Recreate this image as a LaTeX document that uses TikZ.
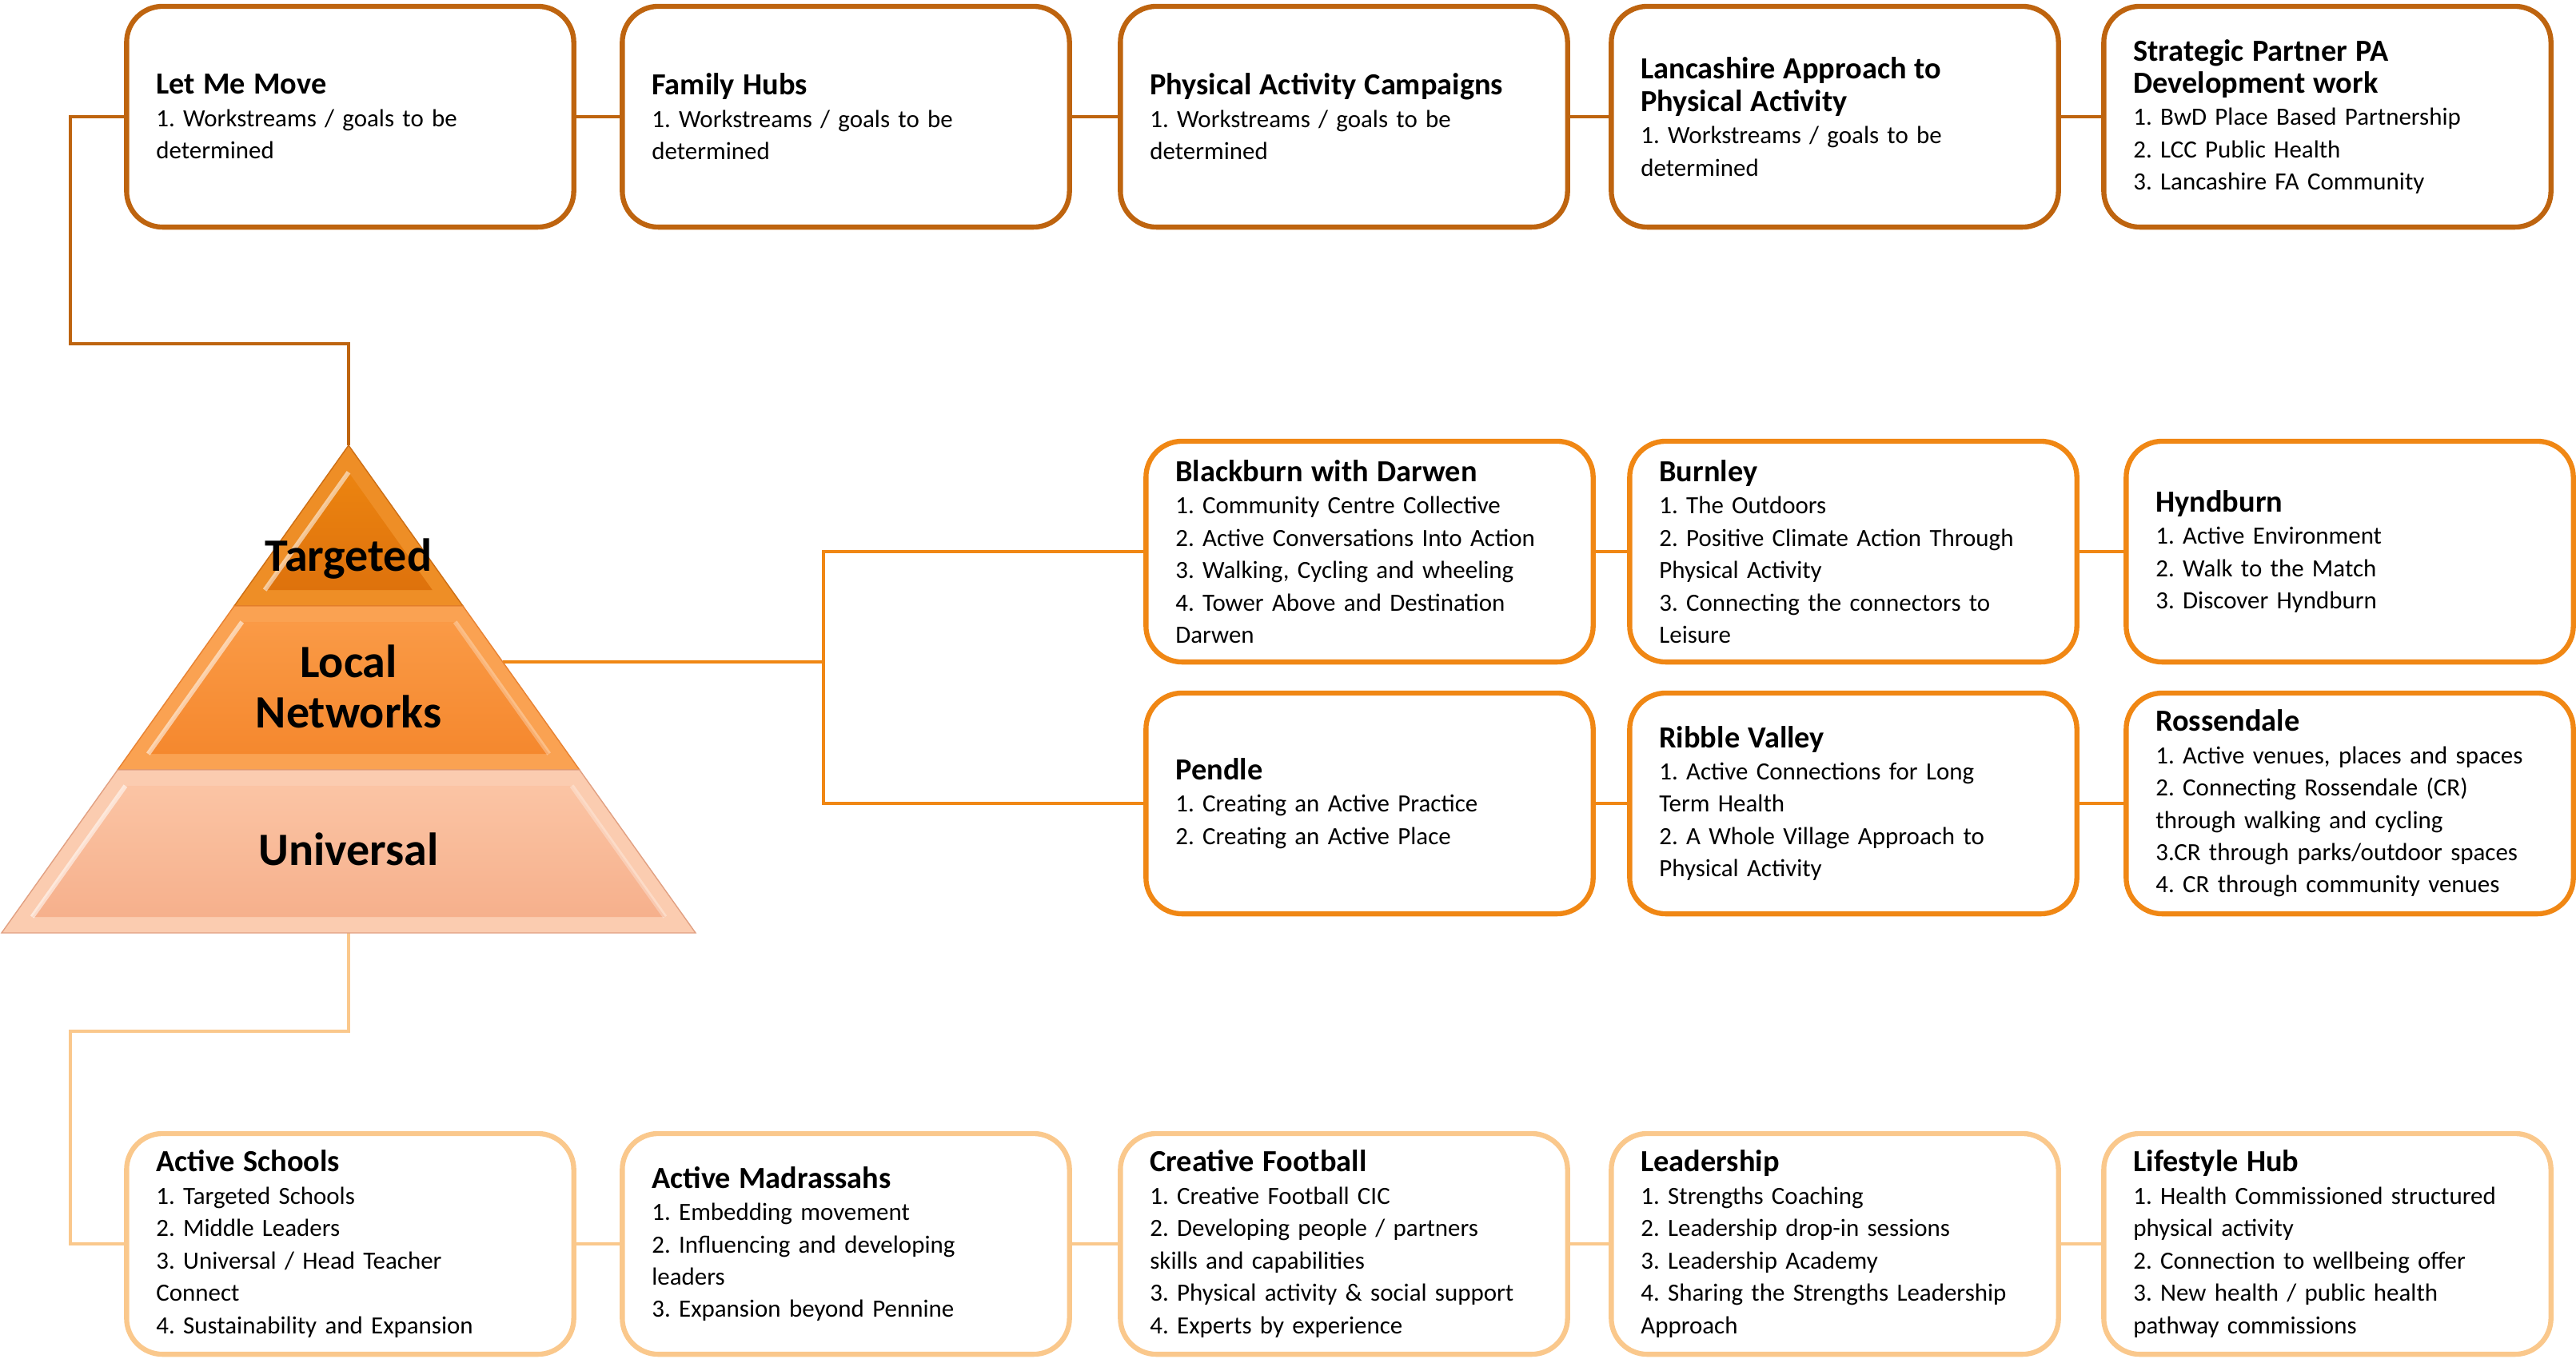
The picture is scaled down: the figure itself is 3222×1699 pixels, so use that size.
\documentclass[tikz,border=0pt]{standalone}
\usepackage{fontspec}
\setmainfont{Carlito}
\frenchspacing

\definecolor{toporange}{RGB}{190,100,15}
\definecolor{midorange}{RGB}{240,135,20}
\definecolor{lightorange}{RGB}{250,200,140}

\tikzset{
  box/.style={draw, rounded corners=0.45cm, line width=1.8pt, fill=white,
    text width=4.85cm, inner xsep=0.37cm, minimum height=2.76cm, align=left,
    font=\fontsize{8.8}{11.5}\selectfont},
  topbox/.style={box, draw=toporange},
  midbox/.style={box, draw=midorange},
  botbox/.style={box, draw=lightorange},
  link/.style={line width=0.9pt},
  shine/.style={draw=white, draw opacity=0.55, line width=1.6pt},
  lvl/.style={font=\fontsize{16.5}{18}\selectfont\bfseries, align=center}
}

\begin{document}
\begin{tikzpicture}[x=0.01cm, y=-0.01cm]
\newcommand{\pyk}{0.7115}
\newcommand{\bev}{24}
\newcommand{\hd}[1]{{\fontsize{10.9}{12}\selectfont\bfseries #1}}
\useasboundingbox (0,0) rectangle (3222,1699);

% top row
\node[topbox] (lmm) at (438,146) {\hd{Let Me Move}\\1. Workstreams / goals to be\\determined};
\node[topbox] (fh) at (1058,146) {\hd{Family Hubs}\\1. Workstreams / goals to be\\determined};
\node[topbox] (pac) at (1681,146) {\hd{Physical Activity Campaigns}\\1. Workstreams / goals to be\\determined};
\node[topbox] (lap) at (2295,146) {\hd{Lancashire Approach to}\\\hd{Physical Activity}\\1. Workstreams / goals to be\\determined};
\node[topbox] (spp) at (2911,146) {\hd{Strategic Partner PA}\\\hd{Development work}\\1. BwD Place Based Partnership\\2. LCC Public Health\\3. Lancashire FA Community};

% local networks
\node[midbox] (bwd) at (1713,690) {\hd{Blackburn with Darwen}\\1. Community Centre Collective\\2. Active Conversations Into Action\\3. Walking, Cycling and wheeling\\4. Tower Above and Destination\\Darwen};
\node[midbox] (bur) at (2318,690) {\hd{Burnley}\\1. The Outdoors\\2. Positive Climate Action Through\\Physical Activity\\3. Connecting the connectors to\\Leisure};
\node[midbox] (hyn) at (2939,690) {\hd{Hyndburn}\\1. Active Environment\\2. Walk to the Match\\3. Discover Hyndburn};
\node[midbox] (pen) at (1713,1005) {\hd{Pendle}\\1. Creating an Active Practice\\2. Creating an Active Place};
\node[midbox] (rib) at (2318,1005) {\hd{Ribble Valley}\\1. Active Connections for Long\\Term Health\\2. A Whole Village Approach to\\Physical Activity};
\node[midbox] (ros) at (2939,1005) {\hd{Rossendale}\\1. Active venues, places and spaces\\2. Connecting Rossendale (CR)\\through walking and cycling\\3.CR through parks/outdoor spaces\\4. CR through community venues};

% bottom row
\node[botbox] (as) at (438,1556) {\hd{Active Schools}\\1. Targeted Schools\\2. Middle Leaders\\3. Universal / Head Teacher\\Connect\\4. Sustainability and Expansion};
\node[botbox] (am) at (1058,1556) {\hd{Active Madrassahs}\\1. Embedding movement\\2. Influencing and developing\\leaders\\3. Expansion beyond Pennine};
\node[botbox] (cf) at (1681,1556) {\hd{Creative Football}\\1. Creative Football CIC\\2. Developing people / partners\\skills and capabilities\\3. Physical activity \& social support\\4. Experts by experience};
\node[botbox] (lead) at (2295,1556) {\hd{Leadership}\\1. Strengths Coaching\\2. Leadership drop-in sessions\\3. Leadership Academy\\4. Sharing the Strengths Leadership\\Approach};
\node[botbox] (lh) at (2911,1556) {\hd{Lifestyle Hub}\\1. Health Commissioned structured\\physical activity\\2. Connection to wellbeing offer\\3. New health / public health\\pathway commissions};

\coordinate (apex) at (436,557);
\coordinate (base) at (436,1167);
\coordinate (lnr) at ({436+\pyk*271},828);
\coordinate (lnj) at (1030,828);

% connectors
\draw[link, toporange] (lmm.west) -| (88,430) -| (apex);
\draw[link, toporange] (lmm) -- (fh) -- (pac) -- (lap) -- (spp);
\draw[link, midorange] (lnr) -- (lnj);
\draw[link, midorange] (lnj) |- (bwd.west);
\draw[link, midorange] (lnj) |- (pen.west);
\draw[link, midorange] (bwd) -- (bur) -- (hyn);
\draw[link, midorange] (pen) -- (rib) -- (ros);
\draw[link, lightorange] (base) |- (88,1290) |- (as.west);
\draw[link, lightorange] (as) -- (am) -- (cf) -- (lead) -- (lh);

% pyramid
\filldraw[fill={rgb,255:red,238;green,142;blue,38}, draw={rgb,255:red,205;green,110;blue,20}]
  (apex) -- ({436-\pyk*201},758) -- ({436+\pyk*201},758) -- cycle;
\shade[top color={rgb,255:red,236;green,132;blue,16}, bottom color={rgb,255:red,222;green,114;blue,12}]
  (436,{557+\bev/\pyk}) -- ({436-\pyk*181+\bev},738) -- ({436+\pyk*181-\bev},738) -- cycle;
\draw[shine] ({436-\pyk*181+\bev},738) -- (436,{557+\bev/\pyk});
\filldraw[fill={rgb,255:red,250;green,162;blue,82}, draw={rgb,255:red,232;green,130;blue,50}]
  ({436-\pyk*201},758) -- ({436+\pyk*201},758) -- ({436+\pyk*406},963) -- ({436-\pyk*406},963) -- cycle;
\shade[top color={rgb,255:red,250;green,154;blue,70}, bottom color={rgb,255:red,245;green,136;blue,46}]
  ({436-\pyk*221+\bev},778) -- ({436+\pyk*221-\bev},778) -- ({436+\pyk*386-\bev},943) -- ({436-\pyk*386+\bev},943) -- cycle;
\draw[shine] ({436-\pyk*386+\bev},943) -- ({436-\pyk*221+\bev},778);
\draw[shine, draw opacity=0.3] ({436+\pyk*386-\bev},943) -- ({436+\pyk*221-\bev},778);
\filldraw[fill={rgb,255:red,251;green,204;blue,176}, draw={rgb,255:red,225;green,160;blue,130}]
  ({436-\pyk*406},963) -- ({436+\pyk*406},963) -- ({436+\pyk*610},1167) -- ({436-\pyk*610},1167) -- cycle;
\shade[top color={rgb,255:red,251;green,196;blue,164}, bottom color={rgb,255:red,246;green,176;blue,140}]
  ({436-\pyk*426+\bev},983) -- ({436+\pyk*426-\bev},983) -- ({436+\pyk*590-\bev},1147) -- ({436-\pyk*590+\bev},1147) -- cycle;
\draw[shine] ({436-\pyk*590+\bev},1147) -- ({436-\pyk*426+\bev},983);
\draw[shine, draw opacity=0.3] ({436+\pyk*590-\bev},1147) -- ({436+\pyk*426-\bev},983);

\node[lvl] (tgt) at (436,699) {Targeted};
\node[lvl] (lnet) at (436,859) {Local\\Networks};
\node[lvl] (uni) at (436,1062) {Universal};
\end{tikzpicture}
\end{document}
